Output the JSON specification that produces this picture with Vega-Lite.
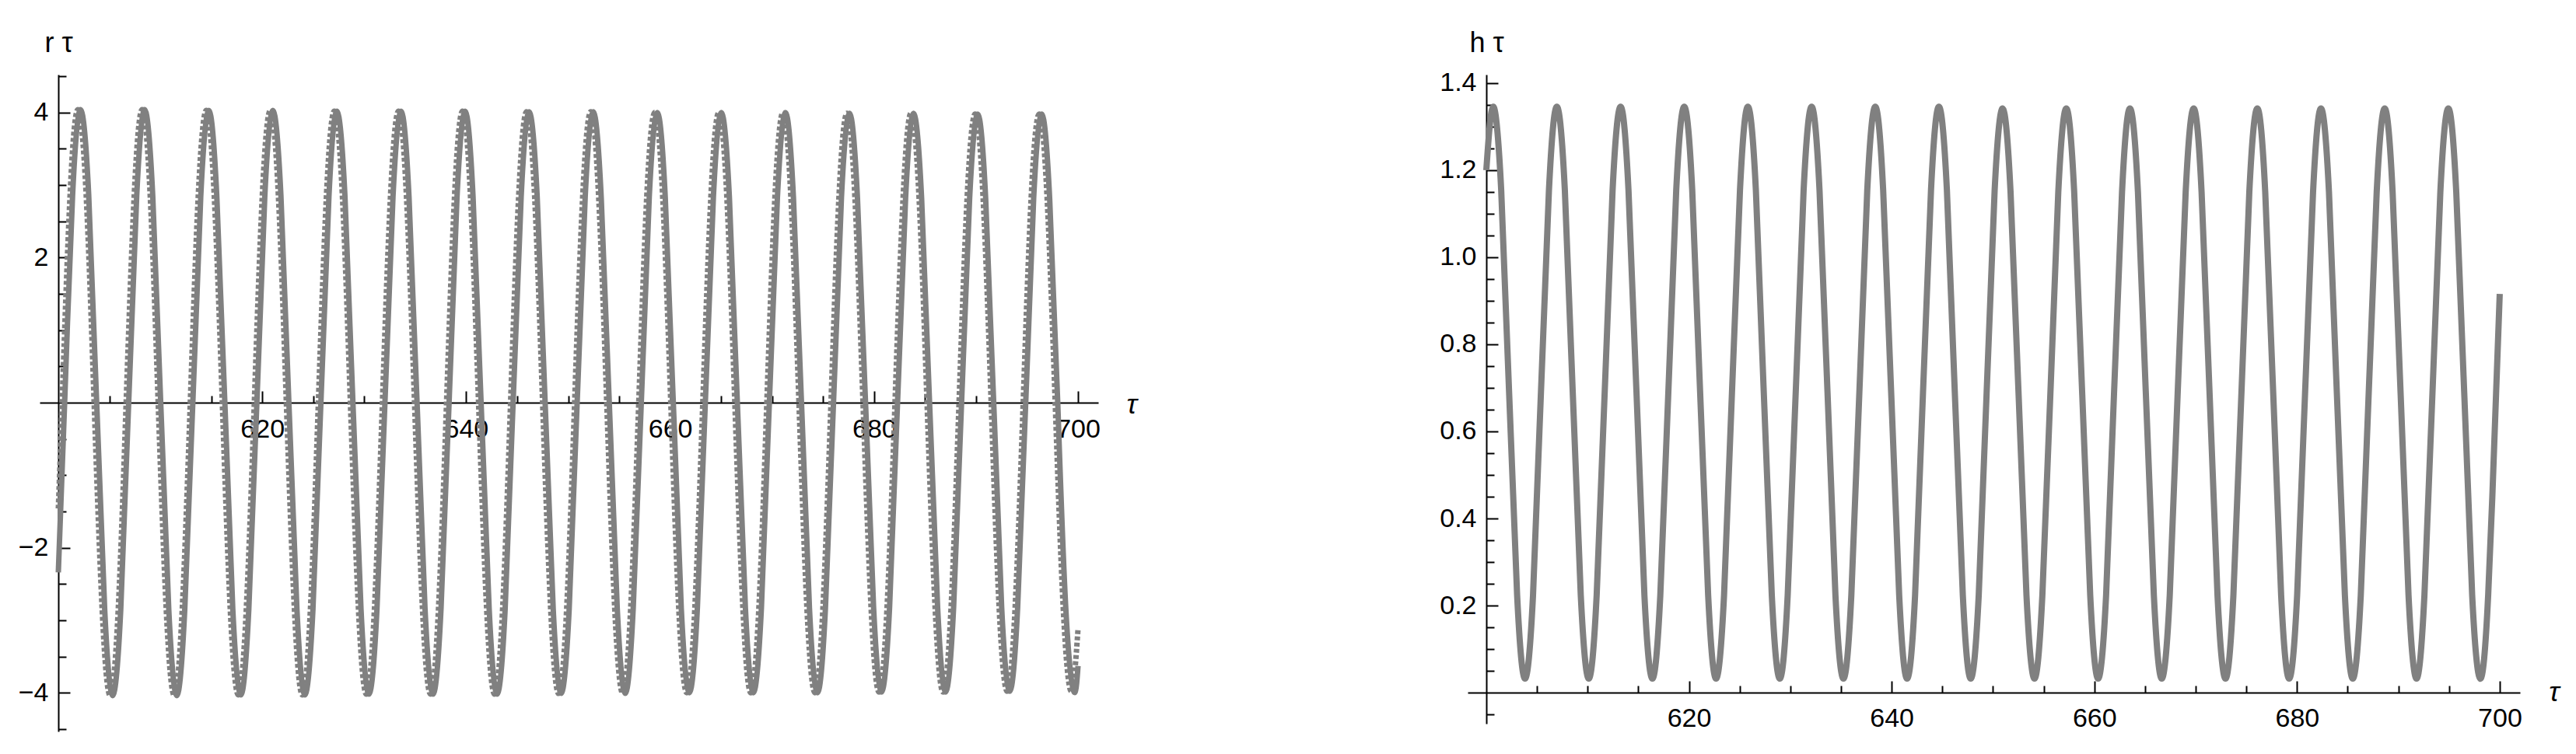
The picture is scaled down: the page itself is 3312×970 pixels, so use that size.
{
  "$schema": "https://vega.github.io/schema/vega-lite/v6.json",
  "autosize": {"type": "none"},
  "padding": {"left": 51, "top": 96, "right": 3261, "bottom": 874},
  "background": "white",
  "bounds": "flush",
  "spacing": 475,
  "config": {
    "view": {"stroke": null},
    "font": "Liberation Sans",
    "axis": {
      "grid": false, "domainColor": "black", "tickColor": "black", "labelColor": "black", "titleColor": "black",
      "labelFont": "Liberation Sans", "titleFont": "Liberation Sans", "labelFontSize": 34, "titleFontSize": 36,
      "titleFontWeight": "normal", "domainWidth": 2, "tickWidth": 2, "labelFlush": false, "labelOverlap": false, "labelBound": false, "zindex": 1
    }
  },
  "datasets": {
    "rs": [
      {"t":600,"v":-2.34},{"t":600.62,"v":0},{"t":601.40,"v":2.86},
      {"t":602.19,"v":4.04},{"t":602.98,"v":2.86},{"t":603.76,"v":0},{"t":604.55,"v":-2.86},{"t":605.33,"v":-4.04},{"t":606.12,"v":-2.86},{"t":606.90,"v":0},{"t":607.69,"v":2.86},
      {"t":608.47,"v":4.04},{"t":609.26,"v":2.85},{"t":610.04,"v":0},{"t":610.83,"v":-2.85},{"t":611.62,"v":-4.04},{"t":612.40,"v":-2.85},{"t":613.19,"v":0},{"t":613.97,"v":2.85},
      {"t":614.76,"v":4.03},{"t":615.54,"v":2.85},{"t":616.33,"v":0},{"t":617.11,"v":-2.85},{"t":617.90,"v":-4.03},{"t":618.68,"v":-2.85},{"t":619.47,"v":0},{"t":620.25,"v":2.85},
      {"t":621.04,"v":4.03},{"t":621.83,"v":2.85},{"t":622.61,"v":0},{"t":623.40,"v":-2.85},{"t":624.18,"v":-4.03},{"t":624.97,"v":-2.85},{"t":625.75,"v":0},{"t":626.54,"v":2.85},
      {"t":627.32,"v":4.02},{"t":628.11,"v":2.84},{"t":628.89,"v":0},{"t":629.68,"v":-2.84},{"t":630.46,"v":-4.02},{"t":631.25,"v":-2.84},{"t":632.03,"v":0},{"t":632.82,"v":2.84},
      {"t":633.61,"v":4.02},{"t":634.39,"v":2.84},{"t":635.18,"v":0},{"t":635.96,"v":-2.84},{"t":636.75,"v":-4.02},{"t":637.53,"v":-2.84},{"t":638.32,"v":0},{"t":639.10,"v":2.84},
      {"t":639.89,"v":4.02},{"t":640.67,"v":2.84},{"t":641.46,"v":0},{"t":642.25,"v":-2.84},{"t":643.03,"v":-4.02},{"t":643.82,"v":-2.84},{"t":644.60,"v":0},{"t":645.39,"v":2.84},
      {"t":646.17,"v":4.01},{"t":646.96,"v":2.84},{"t":647.74,"v":0},{"t":648.53,"v":-2.84},{"t":649.31,"v":-4.01},{"t":650.10,"v":-2.84},{"t":650.88,"v":0},{"t":651.67,"v":2.84},
      {"t":652.46,"v":4.01},{"t":653.24,"v":2.83},{"t":654.03,"v":0},{"t":654.81,"v":-2.83},{"t":655.60,"v":-4.01},{"t":656.38,"v":-2.83},{"t":657.17,"v":0},{"t":657.95,"v":2.83},
      {"t":658.74,"v":4.00},{"t":659.52,"v":2.83},{"t":660.31,"v":0},{"t":661.09,"v":-2.83},{"t":661.88,"v":-4.00},{"t":662.67,"v":-2.83},{"t":663.45,"v":0},{"t":664.24,"v":2.83},
      {"t":665.02,"v":4.00},{"t":665.81,"v":2.83},{"t":666.59,"v":0},{"t":667.38,"v":-2.83},{"t":668.16,"v":-4.00},{"t":668.95,"v":-2.83},{"t":669.73,"v":0},{"t":670.52,"v":2.83},
      {"t":671.31,"v":4.00},{"t":672.09,"v":2.83},{"t":672.88,"v":0},{"t":673.66,"v":-2.83},{"t":674.45,"v":-4.00},{"t":675.23,"v":-2.83},{"t":676.02,"v":0},{"t":676.80,"v":2.83},
      {"t":677.59,"v":3.99},{"t":678.37,"v":2.82},{"t":679.16,"v":0},{"t":679.95,"v":-2.82},{"t":680.73,"v":-3.99},{"t":681.52,"v":-2.82},{"t":682.30,"v":0},{"t":683.09,"v":2.82},
      {"t":683.87,"v":3.99},{"t":684.66,"v":2.82},{"t":685.44,"v":0},{"t":686.23,"v":-2.82},{"t":687.01,"v":-3.99},{"t":687.80,"v":-2.82},{"t":688.58,"v":0},{"t":689.37,"v":2.82},
      {"t":690.16,"v":3.98},{"t":690.94,"v":2.82},{"t":691.73,"v":0},{"t":692.51,"v":-2.82},{"t":693.30,"v":-3.98},{"t":694.08,"v":-2.82},{"t":694.87,"v":0},{"t":695.65,"v":2.82},
      {"t":696.44,"v":3.98},{"t":697.22,"v":2.81},{"t":698.01,"v":0},{"t":698.79,"v":-2.81},{"t":699.58,"v":-3.98},{"t":700,"v":-3.63}
    ],
    "rd": [
      {"t":600,"v":-1.46},{"t":600.37,"v":0},{"t":601.15,"v":2.86},
      {"t":601.94,"v":4.04},{"t":602.73,"v":2.86},{"t":603.51,"v":0},{"t":604.30,"v":-2.86},{"t":605.08,"v":-4.04},{"t":605.87,"v":-2.86},{"t":606.65,"v":0},{"t":607.44,"v":2.86},
      {"t":608.22,"v":4.04},{"t":609.01,"v":2.85},{"t":609.79,"v":0},{"t":610.58,"v":-2.85},{"t":611.37,"v":-4.04},{"t":612.15,"v":-2.85},{"t":612.94,"v":0},{"t":613.72,"v":2.85},
      {"t":614.51,"v":4.03},{"t":615.29,"v":2.85},{"t":616.08,"v":0},{"t":616.86,"v":-2.85},{"t":617.65,"v":-4.03},{"t":618.43,"v":-2.85},{"t":619.22,"v":0},{"t":620.00,"v":2.85},
      {"t":620.79,"v":4.03},{"t":621.58,"v":2.85},{"t":622.36,"v":0},{"t":623.15,"v":-2.85},{"t":623.93,"v":-4.03},{"t":624.72,"v":-2.85},{"t":625.50,"v":0},{"t":626.29,"v":2.85},
      {"t":627.07,"v":4.02},{"t":627.86,"v":2.84},{"t":628.64,"v":0},{"t":629.43,"v":-2.84},{"t":630.21,"v":-4.02},{"t":631.00,"v":-2.84},{"t":631.78,"v":0},{"t":632.57,"v":2.84},
      {"t":633.36,"v":4.02},{"t":634.14,"v":2.84},{"t":634.93,"v":0},{"t":635.71,"v":-2.84},{"t":636.50,"v":-4.02},{"t":637.28,"v":-2.84},{"t":638.07,"v":0},{"t":638.85,"v":2.84},
      {"t":639.64,"v":4.02},{"t":640.42,"v":2.84},{"t":641.21,"v":0},{"t":642.00,"v":-2.84},{"t":642.78,"v":-4.02},{"t":643.57,"v":-2.84},{"t":644.35,"v":0},{"t":645.14,"v":2.84},
      {"t":645.92,"v":4.01},{"t":646.71,"v":2.84},{"t":647.49,"v":0},{"t":648.28,"v":-2.84},{"t":649.06,"v":-4.01},{"t":649.85,"v":-2.84},{"t":650.63,"v":0},{"t":651.42,"v":2.84},
      {"t":652.21,"v":4.01},{"t":652.99,"v":2.83},{"t":653.78,"v":0},{"t":654.56,"v":-2.83},{"t":655.35,"v":-4.01},{"t":656.13,"v":-2.83},{"t":656.92,"v":0},{"t":657.70,"v":2.83},
      {"t":658.49,"v":4.00},{"t":659.27,"v":2.83},{"t":660.06,"v":0},{"t":660.84,"v":-2.83},{"t":661.63,"v":-4.00},{"t":662.42,"v":-2.83},{"t":663.20,"v":0},{"t":663.99,"v":2.83},
      {"t":664.77,"v":4.00},{"t":665.56,"v":2.83},{"t":666.34,"v":0},{"t":667.13,"v":-2.83},{"t":667.91,"v":-4.00},{"t":668.70,"v":-2.83},{"t":669.48,"v":0},{"t":670.27,"v":2.83},
      {"t":671.06,"v":4.00},{"t":671.84,"v":2.83},{"t":672.63,"v":0},{"t":673.41,"v":-2.83},{"t":674.20,"v":-4.00},{"t":674.98,"v":-2.83},{"t":675.77,"v":0},{"t":676.55,"v":2.83},
      {"t":677.34,"v":3.99},{"t":678.12,"v":2.82},{"t":678.91,"v":0},{"t":679.70,"v":-2.82},{"t":680.48,"v":-3.99},{"t":681.27,"v":-2.82},{"t":682.05,"v":0},{"t":682.84,"v":2.82},
      {"t":683.62,"v":3.99},{"t":684.41,"v":2.82},{"t":685.19,"v":0},{"t":685.98,"v":-2.82},{"t":686.76,"v":-3.99},{"t":687.55,"v":-2.82},{"t":688.33,"v":0},{"t":689.12,"v":2.82},
      {"t":689.91,"v":3.98},{"t":690.69,"v":2.82},{"t":691.48,"v":0},{"t":692.26,"v":-2.82},{"t":693.05,"v":-3.98},{"t":693.83,"v":-2.82},{"t":694.62,"v":0},{"t":695.40,"v":2.82},
      {"t":696.19,"v":3.98},{"t":696.97,"v":2.81},{"t":697.76,"v":0},{"t":698.54,"v":-2.81},{"t":699.33,"v":-3.98},{"t":700,"v":-3.12}
    ],
    "h": [
      {"t":600,"v":1.200},
      {"t":600.68,"v":1.346},{"t":601.47,"v":1.154},{"t":602.25,"v":0.689},{"t":603.04,"v":0.224},{"t":603.82,"v":0.032},{"t":604.61,"v":0.224},{"t":605.39,"v":0.689},{"t":606.18,"v":1.154},
      {"t":606.96,"v":1.346},{"t":607.75,"v":1.154},{"t":608.53,"v":0.689},{"t":609.32,"v":0.224},{"t":610.11,"v":0.032},{"t":610.89,"v":0.224},{"t":611.68,"v":0.689},{"t":612.46,"v":1.154},
      {"t":613.25,"v":1.346},{"t":614.03,"v":1.154},{"t":614.82,"v":0.689},{"t":615.60,"v":0.224},{"t":616.39,"v":0.032},{"t":617.17,"v":0.224},{"t":617.96,"v":0.689},{"t":618.74,"v":1.154},
      {"t":619.53,"v":1.346},{"t":620.32,"v":1.154},{"t":621.10,"v":0.689},{"t":621.89,"v":0.224},{"t":622.67,"v":0.032},{"t":623.46,"v":0.224},{"t":624.24,"v":0.689},{"t":625.03,"v":1.154},
      {"t":625.81,"v":1.346},{"t":626.60,"v":1.154},{"t":627.38,"v":0.689},{"t":628.17,"v":0.224},{"t":628.96,"v":0.032},{"t":629.74,"v":0.224},{"t":630.53,"v":0.689},{"t":631.31,"v":1.154},
      {"t":632.10,"v":1.346},{"t":632.88,"v":1.154},{"t":633.67,"v":0.689},{"t":634.45,"v":0.224},{"t":635.24,"v":0.032},{"t":636.02,"v":0.224},{"t":636.81,"v":0.689},{"t":637.59,"v":1.154},
      {"t":638.38,"v":1.346},{"t":639.16,"v":1.154},{"t":639.95,"v":0.689},{"t":640.74,"v":0.224},{"t":641.52,"v":0.032},{"t":642.31,"v":0.224},{"t":643.09,"v":0.689},{"t":643.88,"v":1.154},
      {"t":644.66,"v":1.346},{"t":645.45,"v":1.154},{"t":646.23,"v":0.689},{"t":647.02,"v":0.224},{"t":647.80,"v":0.032},{"t":648.59,"v":0.224},{"t":649.37,"v":0.689},{"t":650.16,"v":1.154},
      {"t":650.95,"v":1.342},{"t":651.73,"v":1.150},{"t":652.52,"v":0.687},{"t":653.30,"v":0.224},{"t":654.09,"v":0.032},{"t":654.87,"v":0.224},{"t":655.66,"v":0.687},{"t":656.44,"v":1.150},
      {"t":657.23,"v":1.342},{"t":658.01,"v":1.150},{"t":658.80,"v":0.687},{"t":659.59,"v":0.224},{"t":660.37,"v":0.032},{"t":661.16,"v":0.224},{"t":661.94,"v":0.687},{"t":662.73,"v":1.150},
      {"t":663.51,"v":1.342},{"t":664.30,"v":1.150},{"t":665.08,"v":0.687},{"t":665.87,"v":0.224},{"t":666.65,"v":0.032},{"t":667.44,"v":0.224},{"t":668.22,"v":0.687},{"t":669.01,"v":1.150},
      {"t":669.80,"v":1.342},{"t":670.58,"v":1.150},{"t":671.37,"v":0.687},{"t":672.15,"v":0.224},{"t":672.94,"v":0.032},{"t":673.72,"v":0.224},{"t":674.51,"v":0.687},{"t":675.29,"v":1.150},
      {"t":676.08,"v":1.342},{"t":676.86,"v":1.150},{"t":677.65,"v":0.687},{"t":678.43,"v":0.224},{"t":679.22,"v":0.032},{"t":680.01,"v":0.224},{"t":680.79,"v":0.687},{"t":681.58,"v":1.150},
      {"t":682.36,"v":1.342},{"t":683.15,"v":1.150},{"t":683.93,"v":0.687},{"t":684.72,"v":0.224},{"t":685.50,"v":0.032},{"t":686.29,"v":0.224},{"t":687.07,"v":0.687},{"t":687.86,"v":1.150},
      {"t":688.65,"v":1.342},{"t":689.43,"v":1.150},{"t":690.22,"v":0.687},{"t":691.00,"v":0.224},{"t":691.79,"v":0.032},{"t":692.57,"v":0.224},{"t":693.36,"v":0.687},{"t":694.14,"v":1.150},
      {"t":694.93,"v":1.342},{"t":695.71,"v":1.150},{"t":696.50,"v":0.687},{"t":697.28,"v":0.224},{"t":698.07,"v":0.032},{"t":698.86,"v":0.224},{"t":699.64,"v":0.687},{"t":700,"v":0.916}
    ]
  },
  "hconcat": [
    {
      "width": 1361,
      "height": 845,
      "layer": [
        {
          "data": {"name": "rs"},
          "mark": {"type": "line", "color": "#808080", "strokeWidth": 7, "interpolate": "natural", "strokeJoin": "round"},
          "encoding": {
            "x": {"field": "t", "type": "quantitative", "scale": {"domain": [598.17, 701.98], "nice": false, "zero": false},
              "axis": {"orient": "bottom", "offset": -423, "values": [620, 640, 660, 680, 700], "format": "d", "tickSize": -15, "labelPadding": 32.5,
                "title": "τ", "titleFontStyle": "italic", "titleAngle": 0, "titleAlign": "left", "titleBaseline": "alphabetic", "titleX": 1397, "titleY": 13.4}},
            "y": {"field": "v", "type": "quantitative", "scale": {"domain": [-4.534, 4.523], "nice": false, "zero": false},
              "axis": {"orient": "left", "offset": -24, "values": [-4, -2, 2, 4], "format": "d", "tickSize": -15, "labelPadding": 28,
                "title": "r τ", "titleAngle": 0, "titleAlign": "center", "titleBaseline": "alphabetic", "titleX": 0, "titleY": -29.3}}
          }
        },
        {
          "data": {"name": "rd"},
          "mark": {"type": "line", "color": "#808080", "strokeWidth": 7, "interpolate": "natural", "strokeDash": [5, 3]},
          "encoding": {
            "x": {"field": "t", "type": "quantitative",
              "axis": {"orient": "bottom", "offset": -423, "values": [605, 610, 615, 625, 630, 635, 645, 650, 655, 665, 670, 675, 685, 690, 695], "tickSize": -9, "labels": false, "domain": false, "title": null}},
            "y": {"field": "v", "type": "quantitative",
              "axis": {"orient": "left", "offset": -24, "values": [-4.5, -3.5, -3, -2.5, -1.5, -1, -0.5, 0.5, 1, 1.5, 2.5, 3, 3.5, 4.5], "tickSize": -10, "labels": false, "domain": false, "title": null}}
          }
        }
      ],
      "resolve": {"axis": {"x": "independent", "y": "independent"}}
    },
    {
      "width": 1353,
      "height": 835,
      "layer": [
        {
          "data": {"name": "h"},
          "mark": {"type": "line", "color": "#808080", "strokeWidth": 8, "interpolate": "natural", "strokeJoin": "round"},
          "encoding": {
            "x": {"field": "t", "type": "quantitative", "scale": {"domain": [598.16, 702.0], "nice": false, "zero": false},
              "axis": {"orient": "bottom", "offset": -40, "values": [620, 640, 660, 680, 700], "format": "d", "tickSize": -15, "labelPadding": 31,
                "title": "τ", "titleFontStyle": "italic", "titleAngle": 0, "titleAlign": "left", "titleBaseline": "alphabetic", "titleX": 1389.7, "titleY": 10.7}},
            "y": {"field": "v", "type": "quantitative", "scale": {"domain": [-0.0714, 1.4196], "nice": false, "zero": false},
              "axis": {"orient": "left", "offset": -24, "values": [0.2, 0.4, 0.6, 0.8, 1.0, 1.2, 1.4], "format": ".1f", "tickSize": -15, "labelPadding": 28,
                "title": "h τ", "titleAngle": 0, "titleAlign": "center", "titleBaseline": "alphabetic", "titleX": 0, "titleY": -30}}
          }
        },
        {
          "data": {"name": "h"},
          "mark": {"type": "line", "color": "#808080", "strokeWidth": 8, "strokeOpacity": 0, "interpolate": "natural"},
          "encoding": {
            "x": {"field": "t", "type": "quantitative",
              "axis": {"orient": "bottom", "offset": -40, "values": [605, 610, 615, 625, 630, 635, 645, 650, 655, 665, 670, 675, 685, 690, 695], "tickSize": -9, "labels": false, "domain": false, "title": null}},
            "y": {"field": "v", "type": "quantitative",
              "axis": {"orient": "left", "offset": -24, "values": [-0.05, 0.05, 0.1, 0.15, 0.25, 0.3, 0.35, 0.45, 0.5, 0.55, 0.65, 0.7, 0.75, 0.85, 0.9, 0.95, 1.05, 1.1, 1.15, 1.25, 1.3, 1.35], "tickSize": -10, "labels": false, "domain": false, "title": null}}
          }
        }
      ],
      "resolve": {"axis": {"x": "independent", "y": "independent"}}
    }
  ]
}
